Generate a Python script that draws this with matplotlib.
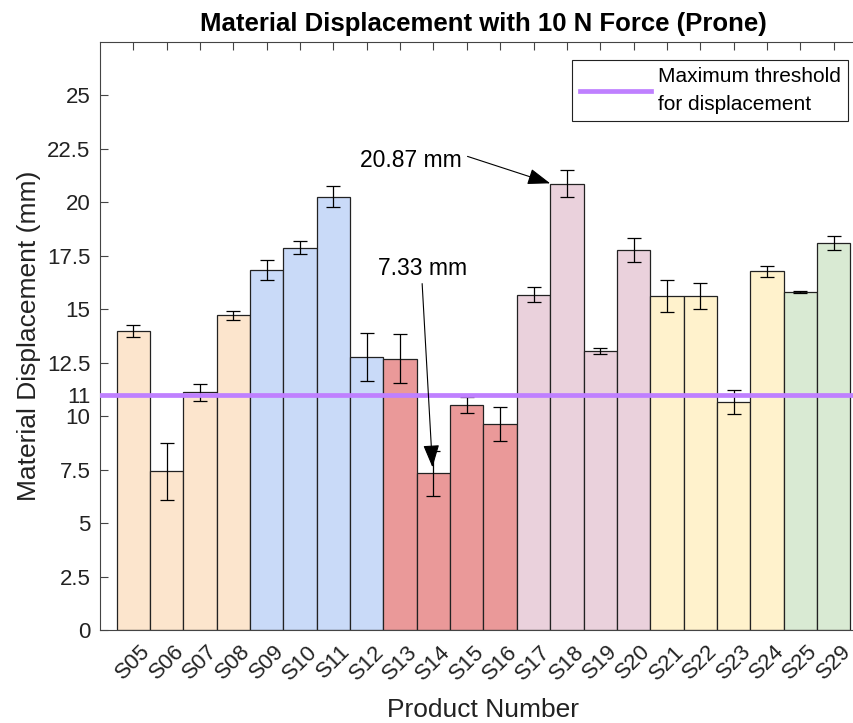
import matplotlib
matplotlib.use('Agg')
from matplotlib import pyplot as plt
import numpy as np

plt.rcParams['font.family'] = ['Liberation Sans', 'DejaVu Sans']

products = ['S05', 'S06', 'S07', 'S08', 'S09', 'S10', 'S11', 'S12', 'S13', 'S14', 'S15',
            'S16', 'S17', 'S18', 'S19', 'S20', 'S21', 'S22', 'S23', 'S24', 'S25', 'S29']
displacement = [13.97, 7.43, 11.12, 14.72, 16.84, 17.88, 20.27, 12.76, 12.69, 7.33, 10.53,
                9.64, 15.69, 20.87, 13.04, 17.77, 15.61, 15.61, 10.65, 16.78, 15.81, 18.10]
std_dev = [0.28, 1.33, 0.40, 0.20, 0.47, 0.31, 0.51, 1.12, 1.15, 1.05, 0.37,
           0.80, 0.36, 0.63, 0.15, 0.58, 0.75, 0.62, 0.56, 0.25, 0.03, 0.31]
group_colors = ['#fce5cd'] * 4 + ['#c9daf8'] * 4 + ['#ea9999'] * 4 + \
               ['#ead1dc'] * 4 + ['#fff2cc'] * 4 + ['#d9ead3'] * 2
threshold = 11
yticks = [0, 2.5, 5, 7.5, 10, 11, 12.5, 15, 17.5, 20, 22.5, 25]

fig = plt.figure(figsize=(8.54, 7.23), dpi=100)
ax = fig.add_axes([100 / 854, 93 / 723, 767 / 854, 588 / 723])

x = np.arange(1, len(products) + 1)
ax.bar(x, displacement, width=1.0, color=group_colors, edgecolor='#222222', linewidth=0.9, zorder=2)
ax.errorbar(x, displacement, yerr=std_dev, fmt='none', ecolor='black', elinewidth=0.9,
            capsize=4.8, capthick=0.9, zorder=3)

ax.axhline(threshold, color='#bf80ff', linewidth=3.4, zorder=4,
           label='Maximum threshold\nfor displacement')

# callouts for the max and min bars
arrow = dict(arrowstyle='-|>,head_length=1.4,head_width=0.5', color='black',
             lw=0.8, shrinkA=0, shrinkB=0)
ax.text(7.8, 21.96, '%.2f mm' % displacement[13], fontsize=16.5, va='center', ha='left')
ax.annotate('', xy=(13.5, displacement[13] + 0.02), xytext=(11.02, 22.15),
            arrowprops=arrow, zorder=5)
ax.text(8.34, 16.9, '%.2f mm' % displacement[9], fontsize=16.5, va='center', ha='left')
ax.annotate('', xy=(9.97, displacement[9] + 0.28), xytext=(9.66, 16.2),
            arrowprops=arrow, zorder=5)

ax.set_xlim(0, 23)
ax.set_ylim(0, 27.5)
ax.set_xticks(x)
ax.set_xticklabels(products, rotation=45, ha='center', va='top')
ax.set_yticks(yticks)
ax.set_yticklabels(['%g' % t for t in yticks])
ax.tick_params(direction='in', top=True, right=True, length=5.5, width=0.8,
               color='#444444', labelsize=16, labelcolor='#222222')
ax.tick_params(axis='x', pad=8)
ax.tick_params(axis='y', pad=7)
for s in ax.spines.values():
    s.set_color('#444444')
    s.set_linewidth(0.8)

ax.set_title('Material Displacement with 10 N Force (Prone)', fontsize=18.5,
             fontweight='bold', pad=8)
ax.set_xlabel('Product Number', fontsize=19, color='#222222', labelpad=10)
ax.set_ylabel('Material Displacement (mm)', fontsize=19, color='#222222', labelpad=4)

leg = ax.legend(loc='upper right', bbox_to_anchor=(848 / 854, 1 - 60 / 723),
                bbox_transform=fig.transFigure, fontsize=15, fancybox=False,
                edgecolor='#222222', framealpha=1, handlelength=3.4, handletextpad=0.35,
                borderpad=0.35, borderaxespad=0)
leg.get_frame().set_linewidth(0.8)
for t in leg.get_texts():
    t.set_linespacing(1.55)

fig.savefig('out.png', dpi=100)
